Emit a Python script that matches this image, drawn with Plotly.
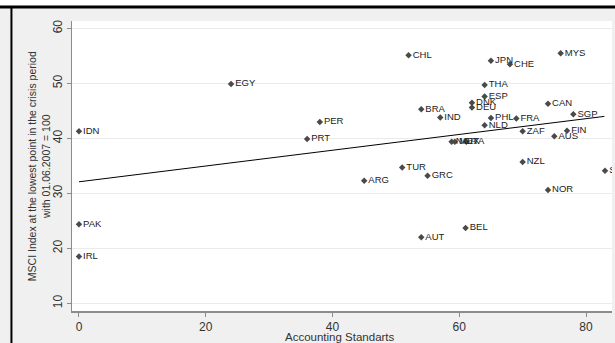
import plotly.graph_objects as go

countries = ["IDN", "PAK", "IRL", "EGY", "PER", "PRT", "ARG", "CHL", "JPN", "CHE",
             "MYS", "THA", "ESP", "DNK", "DEU", "BRA", "IND", "PHL", "FRA", "NLD",
             "CAN", "SGP", "ZAF", "FIN", "AUS", "NGA", "MEX", "ITA", "TUR", "GRC",
             "NZL", "NOR", "SWE", "AUT", "BEL"]
accounting = [0, 0, 0, 24, 38, 36, 45, 52, 65, 68,
              76, 64, 64, 62, 62, 54, 57, 65, 69, 64,
              74, 78, 70, 77, 75, 58.8, 59.3, 61.1, 51, 55,
              70, 74, 83, 54, 61]
msci = [41.3, 24.4, 18.5, 49.9, 43.0, 39.9, 32.3, 55.1, 54.1, 53.5,
        55.5, 49.7, 47.6, 46.5, 45.6, 45.3, 43.8, 43.7, 43.6, 42.4,
        46.3, 44.4, 41.3, 41.4, 40.4, 39.4, 39.4, 39.4, 34.7, 33.2,
        35.7, 30.6, 34.1, 22.0, 23.7]

# fitted line endpoints
fit_x = [0, 82.9]
fit_y = [32.1, 44.0]

x_ticks = [0, 20, 40, 60, 80]
y_ticks = [10, 20, 30, 40, 50, 60]

font = "Liberation Sans, Arial, sans-serif"

fig = go.Figure()
fig.add_trace(go.Scatter(
    x=accounting, y=msci, mode="markers+text", text=countries,
    textposition="middle right",
    textfont=dict(family=font, size=9.5, color="#222222"),
    marker=dict(symbol="diamond", size=5, color="#4a4a4a"),
    cliponaxis=True, showlegend=False, hoverinfo="skip"))
fig.add_trace(go.Scatter(
    x=fit_x, y=fit_y, mode="lines", line=dict(color="black", width=1),
    showlegend=False, hoverinfo="skip"))

fig.update_layout(
    width=615, height=343,
    margin=dict(l=72, r=3, t=21, b=32),
    paper_bgcolor="#f0f0f0", plot_bgcolor="white",
    font=dict(family=font, size=11, color="#333333"),
    xaxis=dict(range=[-1.1, 84.1], tickvals=x_ticks, showgrid=False, zeroline=False,
               showline=True, linecolor="#8c8c8c", linewidth=2,
               ticks="outside", ticklen=4, tickcolor="#8c8c8c",
               tickfont=dict(size=12), title=None),
    yaxis=dict(range=[8.6, 61.35], tickvals=y_ticks, showgrid=True, gridcolor="#ebebeb",
               gridwidth=1, zeroline=False, showline=True, linecolor="#8c8c8c", linewidth=1,
               ticks="outside", ticklen=4, tickcolor="#8c8c8c", tickangle=-90,
               tickfont=dict(size=12), title=None),
    annotations=[
        dict(text="Accounting Standarts", xref="paper", yref="paper", x=0.497, y=-0.062,
             showarrow=False, yanchor="top", font=dict(size=11.5, color="#333333")),
        dict(text="MSCI Index at the lowest point in the crisis period<br>with 01.06.2007 = 100",
             xref="paper", yref="paper", x=-0.033, y=0.5, xanchor="right", textangle=-90,
             showarrow=False, font=dict(size=10.5, color="#333333")),
    ],
    shapes=[
        dict(type="rect", xref="paper", yref="paper", x0=-0.2, x1=1.1, y0=1.0 + 13 / 290,
             y1=1.2, fillcolor="white", line=dict(width=0), layer="below"),
        dict(type="line", xref="paper", yref="paper", x0=-0.2, x1=1.1,
             y0=1.0 + 14 / 290, y1=1.0 + 14 / 290, line=dict(color="black", width=3)),
        dict(type="line", xref="paper", yref="paper", x0=-60.5 / 539.5, x1=-60.5 / 539.5,
             y0=-0.2, y1=1.0 + 14 / 290, line=dict(color="black", width=2)),
    ],
)

fig.write_html(
    "out.html",
    config={"displayModeBar": False},
    post_script="document.body.style.margin='0px';document.body.style.padding='0px';"
                "document.body.style.overflow='hidden';")
